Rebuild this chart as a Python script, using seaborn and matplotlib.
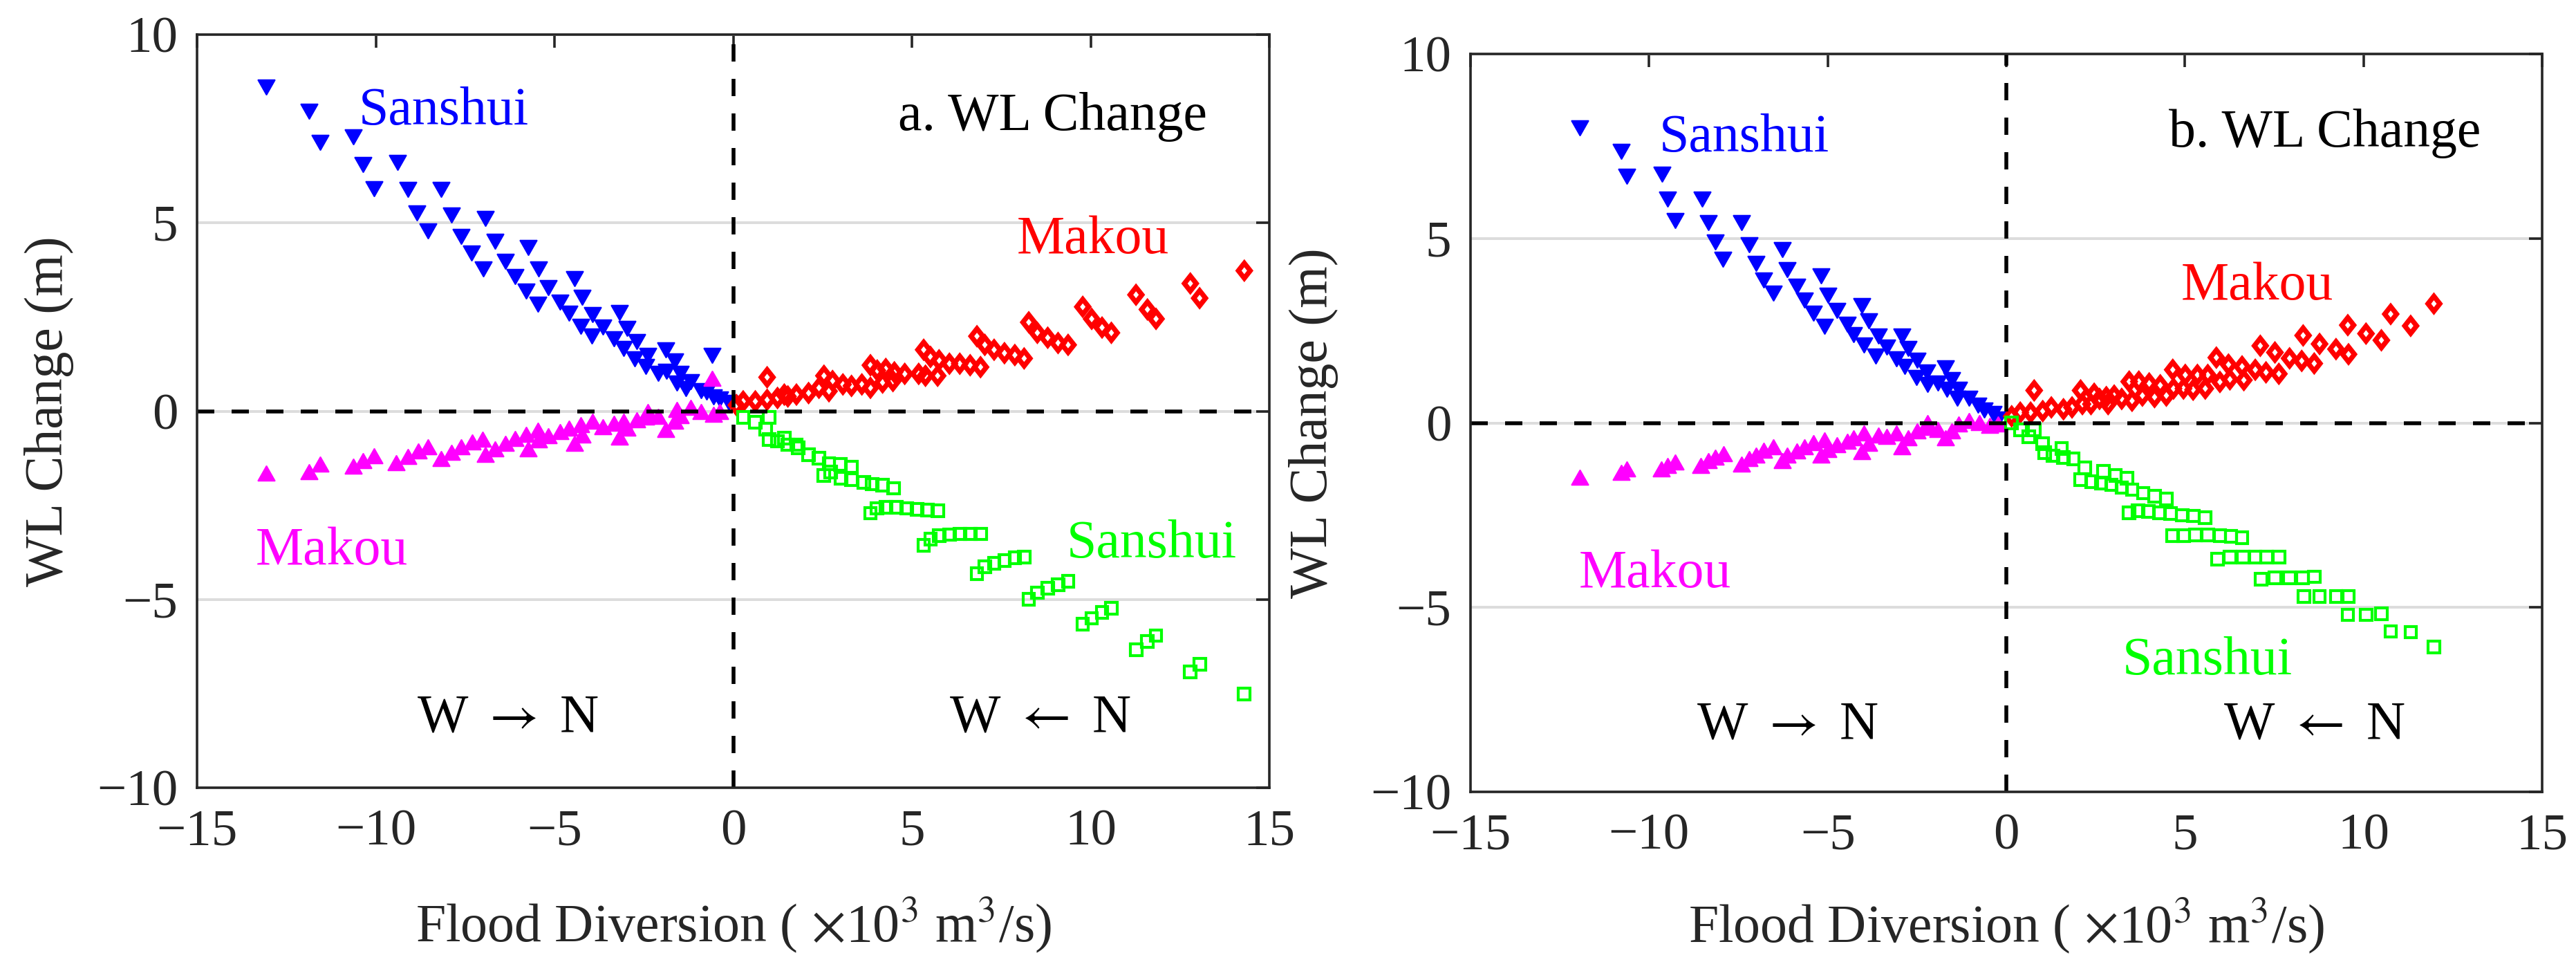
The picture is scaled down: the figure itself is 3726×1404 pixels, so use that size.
import numpy as np
import pandas as pd
import matplotlib
matplotlib.use("Agg")
import matplotlib.pyplot as plt
from matplotlib.path import Path
import seaborn as sns

# ---------------- data ----------------
# Panel a
a_sanshui_wn_x = [-13.07, -11.87, -11.55, -10.62, -10.35, -9.39, -10.04, -9.10, -8.17, -8.84, -7.88, -6.93,
                  -8.53, -7.62, -6.67, -5.73, -7.33, -6.37, -5.44, -7.00, -6.10, -4.44, -5.79, -5.18,
                  -5.47, -4.85, -4.22, -4.59, -3.93, -3.19, -4.27, -3.64, -2.97, -3.96, -3.33, -2.70,
                  -3.07, -1.89, -2.39, -2.76, -2.44, -1.64, -0.59, -2.10, -1.86, -1.48, -1.57, -1.19,
                  -0.90, -0.56, -0.37, -0.13, -1.33, -0.75]
a_sanshui_wn_y = [8.60, 7.96, 7.14, 7.29, 6.54, 6.60, 5.90, 5.88, 5.88, 5.26, 5.20, 5.12,
                  4.78, 4.64, 4.50, 4.35, 4.19, 3.98, 3.77, 3.77, 3.57, 3.51, 3.19, 3.28,
                  2.84, 2.90, 3.02, 2.59, 2.56, 2.61, 2.25, 2.23, 2.20, 2.00, 1.92, 1.85,
                  1.67, 1.62, 1.47, 1.38, 1.19, 1.33, 1.47, 1.01, 1.06, 1.01, 0.74, 0.78,
                  0.55, 0.37, 0.32, 0.23, 0.60, 0.51]
a_makou_wn_x = [-13.07, -11.87, -11.55, -10.62, -10.35, -10.04, -9.42, -9.10, -8.81, -8.53, -8.17, -7.88,
                -7.62, -7.30, -7.01, -6.93, -6.67, -6.37, -6.10, -5.79, -5.73, -5.44, -5.47, -5.18,
                -4.85, -4.59, -4.44, -4.22, -4.27, -3.93, -3.64, -3.33, -3.19, -2.97, -3.07, -2.70,
                -2.44, -2.39, -1.89, -1.64, -2.10, -1.48, -1.19, -0.90, -0.59, -0.56, -0.37, -1.57]
a_makou_wn_y = [-1.64, -1.60, -1.41, -1.46, -1.32, -1.18, -1.37, -1.21, -1.06, -0.95, -1.25, -1.09,
                -0.95, -0.82, -0.75, -1.15, -1.00, -0.86, -0.73, -0.62, -1.00, -0.77, -0.50, -0.66,
                -0.54, -0.45, -0.85, -0.64, -0.36, -0.27, -0.41, -0.32, -0.68, -0.45, -0.27, -0.23,
                -0.15, 0.00, -0.48, -0.27, -0.13, -0.12, 0.10, 0.00, 0.87, -0.09, 0.00, 0.05]
a_makou_nw_x = [14.30, 12.79, 13.05, 11.27, 11.59, 11.83, 9.78, 10.03, 10.32, 10.58, 8.27, 8.51,
                8.80, 9.09, 9.37, 6.82, 7.04, 7.30, 7.59, 7.88, 8.14, 5.33, 5.52, 5.76,
                6.05, 6.34, 6.63, 6.92, 5.72, 5.38, 5.19, 3.84, 4.03, 4.27, 4.51, 4.80,
                4.18, 4.47, 2.54, 2.78, 3.07, 3.31, 3.60, 3.84, 2.40, 2.68, 2.11, 1.77,
                1.53, 1.24, 0.95, 0.95, 0.62, 0.28, 0.09, 1.43]
a_makou_nw_y = [3.73, 3.39, 3.00, 3.09, 2.70, 2.45, 2.77, 2.45, 2.22, 2.08, 2.36, 2.08,
                1.95, 1.81, 1.76, 1.99, 1.76, 1.63, 1.54, 1.49, 1.40, 1.63, 1.44, 1.35,
                1.26, 1.26, 1.22, 1.17, 0.94, 0.94, 0.99, 1.22, 1.08, 1.12, 1.03, 0.99,
                0.76, 0.80, 0.94, 0.80, 0.71, 0.67, 0.71, 0.62, 0.62, 0.53, 0.48, 0.44,
                0.39, 0.35, 0.90, 0.30, 0.26, 0.26, 0.16, 0.44]
a_sanshui_nw_x = [14.30, 12.79, 13.05, 11.27, 11.59, 11.83, 9.78, 10.03, 10.32, 10.58, 8.27, 8.51,
                  8.80, 9.09, 9.37, 6.82, 7.04, 7.30, 7.59, 7.88, 8.14, 5.33, 5.52, 5.76,
                  6.05, 6.34, 6.63, 6.92, 3.84, 4.03, 4.27, 4.56, 4.85, 5.14, 5.43, 5.72,
                  2.54, 2.73, 3.02, 3.31, 3.65, 3.89, 4.18, 4.49, 2.68, 3.00, 3.31, 2.40,
                  2.11, 1.82, 1.53, 1.24, 1.00, 1.00, 0.91, 0.62, 0.28, 1.43, 1.77]
a_sanshui_nw_y = [-7.51, -6.92, -6.72, -6.33, -6.12, -5.96, -5.66, -5.50, -5.35, -5.23, -5.00, -4.82,
                  -4.70, -4.61, -4.52, -4.31, -4.13, -4.04, -3.97, -3.90, -3.88, -3.56, -3.40, -3.31,
                  -3.28, -3.26, -3.26, -3.26, -2.71, -2.58, -2.55, -2.55, -2.58, -2.61, -2.62, -2.64,
                  -1.71, -1.62, -1.78, -1.82, -1.89, -1.94, -1.97, -2.05, -1.39, -1.42, -1.48, -1.25,
                  -1.16, -0.98, -0.89, -0.80, -0.75, -0.16, -0.48, -0.29, -0.16, -0.72, -0.89]

# Panel b
b_sanshui_wn_x = [-11.94, -10.79, -10.62, -9.63, -9.49, -8.52, -9.27, -8.34, -7.42, -8.15, -7.20, -6.27,
                  -7.93, -7.01, -6.13, -5.18, -6.80, -5.86, -4.99, -6.53, -5.66, -4.05, -5.40, -4.75,
                  -5.09, -4.46, -3.85, -4.27, -3.59, -2.92, -3.98, -3.35, -2.75, -3.66, -3.07, -2.49,
                  -2.85, -1.70, -2.22, -2.52, -2.20, -1.53, -1.91, -1.67, -1.33, -1.38, -1.04, -0.80,
                  -0.61, -0.37, -0.23]
b_sanshui_wn_y = [7.99, 7.36, 6.68, 6.73, 6.07, 6.07, 5.49, 5.42, 5.42, 4.91, 4.82, 4.70,
                  4.44, 4.32, 4.16, 3.98, 3.88, 3.70, 3.46, 3.51, 3.32, 3.18, 2.98, 3.04,
                  2.62, 2.67, 2.76, 2.39, 2.36, 2.36, 2.11, 2.05, 2.02, 1.81, 1.74, 1.69,
                  1.53, 1.49, 1.37, 1.23, 1.04, 1.18, 1.08, 0.90, 0.90, 0.67, 0.67, 0.48,
                  0.34, 0.25, 0.11]
b_makou_wn_x = [-11.94, -10.79, -10.62, -9.66, -9.49, -9.27, -8.55, -8.34, -8.15, -7.91, -7.42, -7.20,
                -7.01, -6.80, -6.53, -6.27, -6.13, -5.86, -5.66, -5.40, -5.18, -4.99, -5.09, -4.75,
                -4.46, -4.27, -4.05, -3.85, -3.98, -3.59, -3.35, -2.92, -2.75, -3.07, -2.49, -2.22,
                -2.20, -1.70, -1.53, -1.91, -1.33, -1.04, -0.75, -0.47, -0.23]
b_makou_wn_y = [-1.48, -1.34, -1.25, -1.25, -1.15, -1.06, -1.15, -1.02, -0.92, -0.83, -1.11, -0.97,
                -0.88, -0.74, -0.64, -1.02, -0.88, -0.75, -0.64, -0.53, -0.88, -0.72, -0.45, -0.59,
                -0.50, -0.41, -0.78, -0.55, -0.27, -0.32, -0.36, -0.64, -0.41, -0.27, -0.22, -0.13,
                0.01, -0.41, -0.22, -0.18, -0.03, 0.06, 0.01, -0.06, -0.03]
b_makou_nw_x = [11.97, 11.32, 10.76, 10.50, 10.07, 9.56, 9.58, 9.23, 8.77, 8.62, 8.31, 8.27,
                7.93, 7.63, 7.52, 7.27, 7.11, 6.97, 6.65, 6.60, 6.26, 6.22, 5.98, 5.88,
                5.57, 5.64, 5.23, 5.35, 4.96, 5.01, 4.66, 4.48, 4.68, 4.31, 4.15, 4.00,
                3.81, 3.71, 3.44, 3.52, 3.23, 3.02, 2.85, 2.61, 2.37, 2.08, 2.13, 1.84,
                1.60, 1.26, 1.02, 0.78, 0.68, 0.39, 0.15, 2.46, 2.80]
b_makou_nw_y = [3.23, 2.63, 2.95, 2.24, 2.42, 2.65, 1.86, 2.00, 2.14, 1.61, 2.37, 1.68,
                1.75, 1.33, 1.91, 1.37, 2.09, 1.44, 1.16, 1.53, 1.18, 1.58, 1.11, 1.77,
                0.93, 1.30, 0.90, 1.30, 0.93, 1.30, 1.44, 0.74, 0.93, 1.02, 0.70, 1.07,
                0.74, 1.12, 1.12, 0.60, 0.65, 0.74, 0.51, 0.65, 0.51, 0.88, 0.51, 0.42,
                0.37, 0.42, 0.32, 0.88, 0.28, 0.28, 0.18, 0.79, 0.70]
b_sanshui_nw_x = [11.97, 11.32, 10.76, 10.50, 10.07, 9.56, 9.58, 9.23, 8.77, 8.33, 8.62, 8.29,
                  7.93, 7.52, 7.13, 7.63, 7.29, 6.97, 6.63, 6.26, 5.91, 6.60, 6.29, 5.98,
                  5.64, 5.30, 4.96, 4.65, 5.57, 5.23, 4.92, 4.60, 4.29, 3.98, 3.69, 3.44,
                  4.48, 4.15, 3.83, 3.52, 3.23, 2.94, 2.65, 2.39, 2.08, 3.38, 3.06, 2.72,
                  2.19, 1.88, 1.60, 1.31, 1.07, 0.78, 0.63, 0.39, 0.15, 1.02, 1.55]
b_sanshui_nw_y = [-6.07, -5.67, -5.65, -5.18, -5.20, -5.20, -4.70, -4.71, -4.71, -4.71, -4.17, -4.20,
                  -4.20, -4.20, -4.23, -3.64, -3.64, -3.64, -3.64, -3.64, -3.69, -3.11, -3.08, -3.05,
                  -3.04, -3.04, -3.05, -3.05, -2.57, -2.52, -2.50, -2.45, -2.43, -2.40, -2.38, -2.43,
                  -2.06, -1.99, -1.90, -1.81, -1.75, -1.68, -1.64, -1.59, -1.54, -1.50, -1.43, -1.31,
                  -1.22, -0.98, -0.94, -0.89, -0.80, -0.19, -0.38, -0.19, 0.00, -0.56, -0.70]

x_ticks = [-15, -10, -5, 0, 5, 10, 15]
y_ticks = [-10, -5, 0, 5, 10]
x_label = "Flood Diversion ( $\\times$10$^3$ m$^3$/s)"
y_label = "WL Change (m)"

# annotation texts: (text, x, y, colour)
a_notes = [("Sanshui", -10.48, 7.62, "#0000ff"),
           ("Makou", -13.36, -4.06, "#ff00ff"),
           ("a. WL Change", 4.61, 7.46, "black"),
           ("Makou", 7.93, 4.20, "#ff0000"),
           ("Sanshui", 9.33, -3.88, "#00ff00"),
           ("W $\\rightarrow$ N", -8.85, -8.50, "black"),
           ("W $\\leftarrow$ N", 6.05, -8.50, "black")]
b_notes = [("Sanshui", -9.73, 7.36, "#0000ff"),
           ("Makou", -11.97, -4.45, "#ff00ff"),
           ("b. WL Change", 4.55, 7.48, "black"),
           ("Makou", 4.89, 3.35, "#ff0000"),
           ("Sanshui", 3.25, -6.81, "#00ff00"),
           ("W $\\rightarrow$ N", -8.67, -8.54, "black"),
           ("W $\\leftarrow$ N", 6.07, -8.54, "black")]

# ---------------- style ----------------
sns.set_style("white")
SERIF = "Liberation Serif"
plt.rcParams["font.family"] = SERIF
plt.rcParams["font.serif"] = [SERIF, "DejaVu Serif"]
plt.rcParams["mathtext.fontset"] = "stix"
plt.rcParams["axes.unicode_minus"] = True

# marker shapes (MATLAB-like)
CLOSED4 = [Path.MOVETO, Path.LINETO, Path.LINETO, Path.LINETO, Path.CLOSEPOLY]
diamond = Path([(0, 1), (0.79, 0), (0, -1), (-0.79, 0), (0, 1)], CLOSED4)
tri_down = Path([(-1, 0.88), (1, 0.88), (0, -0.88), (-1, 0.88)],
                [Path.MOVETO, Path.LINETO, Path.LINETO, Path.CLOSEPOLY])
tri_up = Path([(-1, -0.88), (1, -0.88), (0, 0.88), (-1, -0.88)],
              [Path.MOVETO, Path.LINETO, Path.LINETO, Path.CLOSEPOLY])

fig = plt.figure(figsize=(37.26, 14.04), dpi=100)
ax_a = fig.add_axes([285 / 3726, 1 - 1139 / 1404, 1551 / 3726, 1089 / 1404])
ax_b = fig.add_axes([2127 / 3726, 1 - 1145 / 1404, 1550 / 3726, 1067 / 1404])

# (x, y, marker, colour, size, linewidth, filled)
panels = [
    (ax_a, [(a_sanshui_wn_x, a_sanshui_wn_y, tri_down, "#0000ff", 320, 1.2, True),
            (a_makou_wn_x, a_makou_wn_y, tri_up, "#ff00ff", 320, 1.2, True),
            (a_makou_nw_x, a_makou_nw_y, diamond, "#ff0000", 245, 5.2, False),
            (a_sanshui_nw_x, a_sanshui_nw_y, "s", "#00ff00", 145, 3.0, False)],
     a_notes, -0.115, -0.143),
    (ax_b, [(b_sanshui_wn_x, b_sanshui_wn_y, tri_down, "#0000ff", 320, 1.2, True),
            (b_makou_wn_x, b_makou_wn_y, tri_up, "#ff00ff", 320, 1.2, True),
            (b_makou_nw_x, b_makou_nw_y, diamond, "#ff0000", 245, 5.2, False),
            (b_sanshui_nw_x, b_sanshui_nw_y, "s", "#00ff00", 145, 3.0, False)],
     b_notes, -0.123, -0.141),
]

for ax, series, notes, ylab_x, xlab_y in panels:
    ax.set_xlim(-15, 15)
    ax.set_ylim(-10, 10)
    ax.set_xticks(x_ticks)
    ax.set_yticks(y_ticks)
    ax.set_axisbelow(True)
    ax.yaxis.grid(True, color="#dcdcdc", linewidth=2.8)
    ax.xaxis.grid(False)
    for sp in ax.spines.values():
        sp.set_visible(True)
        sp.set_color("#262626")
        sp.set_linewidth(2.6)
        sp.set_zorder(5)

    for xs, ys, mk, col, s, lw, filled in series:
        df = pd.DataFrame({"x": xs, "y": ys})
        sns.scatterplot(data=df, x="x", y="y", ax=ax, marker=mk, s=s,
                        color=col, facecolor=(col if filled else "none"), edgecolor=col,
                        linewidth=lw, joinstyle="miter", legend=False, zorder=3)

    ax.axhline(0, color="black", linestyle=(0, (4.5, 4.5)), linewidth=4.0, zorder=4)
    ax.axvline(0, color="black", linestyle=(0, (4.5, 4.5)), linewidth=4.0, zorder=4)

    for txt, tx, ty, col in notes:
        ax.text(tx, ty, txt, color=col, family=SERIF, fontsize=56,
                ha="left", va="baseline", zorder=6)

    ax.tick_params(axis="both", which="both", direction="in", length=14, width=2.6,
                   top=True, right=True, colors="#262626", labelcolor="#262626",
                   labelsize=54)
    ax.tick_params(axis="x", pad=22)
    ax.tick_params(axis="y", pad=20)
    for lab in ax.get_xticklabels() + ax.get_yticklabels():
        lab.set_family(SERIF)
    ax.set_xlabel(x_label, family=SERIF, fontsize=56, color="#262626")
    ax.set_ylabel(y_label, family=SERIF, fontsize=56, color="#262626")
    ax.xaxis.set_label_coords(0.5, xlab_y)
    ax.yaxis.set_label_coords(ylab_x, 0.5)

fig.savefig("out.png", dpi=100)
